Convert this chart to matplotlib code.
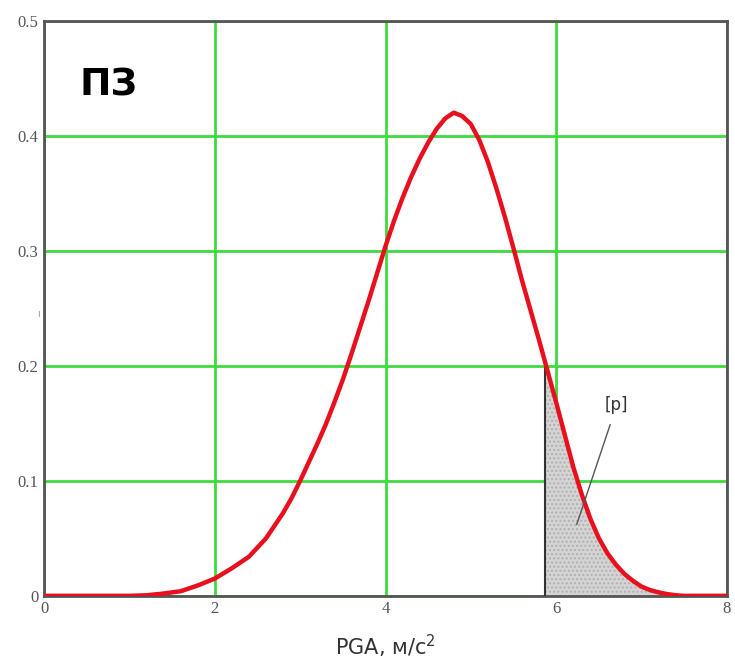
import matplotlib
matplotlib.use("Agg")
import matplotlib.pyplot as plt
import numpy as np

# density curve
pga = [0.0, 0.5, 1.0, 1.2, 1.4, 1.5, 1.6, 1.8, 2.0, 2.2, 2.4, 2.5, 2.6, 2.7,
       2.8, 2.9, 3.0, 3.1, 3.2, 3.3, 3.4, 3.5, 3.6, 3.7, 3.8, 3.9, 4.0, 4.1,
       4.2, 4.3, 4.4, 4.5, 4.6, 4.7, 4.8, 4.9, 5.0, 5.1, 5.2, 5.3, 5.4, 5.5,
       5.6, 5.7, 5.8, 5.9, 6.0, 6.1, 6.2, 6.3, 6.4, 6.5, 6.6, 6.7, 6.8, 6.9,
       7.0, 7.1, 7.2, 7.3, 7.4, 7.5, 8.0]
dens = [0.0, 0.0, 0.0, 0.0005, 0.002, 0.003, 0.004, 0.009, 0.015, 0.024, 0.034,
        0.042, 0.050, 0.061, 0.072, 0.085, 0.100, 0.116, 0.132, 0.149, 0.168,
        0.188, 0.210, 0.233, 0.256, 0.280, 0.304, 0.326, 0.346, 0.364, 0.380,
        0.394, 0.406, 0.415, 0.420, 0.417, 0.410, 0.396, 0.377, 0.354, 0.329,
        0.302, 0.274, 0.248, 0.222, 0.195, 0.168, 0.140, 0.112, 0.088, 0.067,
        0.050, 0.037, 0.027, 0.019, 0.013, 0.008, 0.005, 0.003, 0.0015, 0.0005,
        0.0, 0.0]
p_start = 5.87
xticks = [0, 2, 4, 6, 8]
yticks = [0, 0.1, 0.2, 0.3, 0.4, 0.5]
ytick_labels = ["0", "0.1", "0.2", "0.3", "0.4", "0.5"]

x = np.array(pga)
y = np.array(dens)

fig = plt.figure(figsize=(7.35, 6.65), dpi=100)
ax = fig.add_axes([0.060, 0.104, 0.929, 0.865])

# shaded tail
xs = np.concatenate([[p_start], x[x > p_start]])
ys = np.interp(xs, x, y)
ax.fill_between(xs, 0, ys, facecolor="#d4d4d4", edgecolor="#b0b0b0", hatch="....", linewidth=0, zorder=2)
ax.plot([p_start, p_start], [0, np.interp(p_start, x, y)], color="#333333", lw=1.5, zorder=3)

ax.plot(x, y, color="#e8101c", lw=3.2, zorder=4, solid_capstyle="round", solid_joinstyle="round")

ax.set_xlim(0, 8)
ax.set_ylim(0, 0.5)
ax.set_xticks(xticks)
ax.set_yticks(yticks)
ax.set_yticklabels(ytick_labels)
ax.grid(True, color="#3ddc3d", lw=2)
ax.set_axisbelow(True)
ax.tick_params(length=0, labelsize=12, colors="#555555", pad=4)
for lab in ax.get_xticklabels() + ax.get_yticklabels():
    lab.set_family("Liberation Serif")
for s in ax.spines.values():
    s.set_color("#555555")
    s.set_linewidth(2)

ax.text(0.42, 0.444, "ПЗ", fontsize=27, fontweight="bold", va="center", ha="left", zorder=5)
ax.annotate("[p]", xy=(6.24, 0.062), xytext=(6.71, 0.166), fontsize=12, color="#333333",
            ha="center", va="center",
            arrowprops=dict(arrowstyle="-", color="#555555", lw=1, shrinkA=6, shrinkB=0), zorder=5)
ax.text(-0.05, 0.245, "ı", fontsize=7, color="#999999", ha="right", va="center")

ax.set_xlabel("PGA, м/с$^2$", fontsize=15, color="#333333", labelpad=11)

fig.savefig("out.png", dpi=100)
plt.close(fig)
